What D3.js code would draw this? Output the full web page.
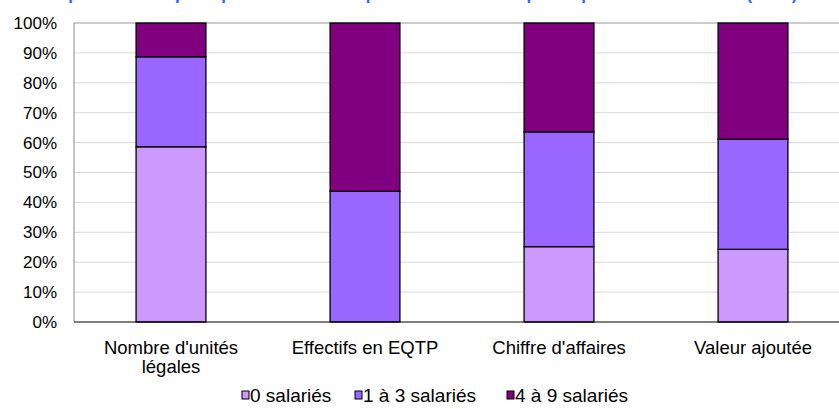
<!DOCTYPE html>
<meta charset="utf-8">
<style>
body { margin: 0; background: #fff; }
svg { display: block; font-family: Arial, "Liberation Sans", sans-serif; }
.grid line { stroke: #d9d9d9; }
.axis--y path { stroke: #888; }
.axis--y .tick line { display: none; }
.axis text { fill: #000; }
.axis--y text { font-size: 17px; }
.axis--x text { font-size: 18.5px; }
.axis--x path { stroke: #000; }
.axis--x .tick line { display: none; }
</style>
<svg width="839" height="409"></svg>
<script src="https://cdnjs.cloudflare.com/ajax/libs/d3/7.8.5/d3.min.js"></script>
<script>

var categories = ["Nombre d'unités légales", "Effectifs en EQTP", "Chiffre d'affaires", "Valeur ajoutée"];
var seriesNames = ["0 salariés", "1 à 3 salariés", "4 à 9 salariés"];
var zero = [58.6, 0, 25.2, 24.3];
var oneToThree = [30.1, 43.7, 38.4, 36.8];
var fourToNine = [11.3, 56.3, 36.4, 38.9];
var yTicks = [0, 10, 20, 30, 40, 50, 60, 70, 80, 90, 100];
var colors = ["#cc99ff", "#9966ff", "#800080"];

var svg = d3.select("svg"),
    margin = {top: 23, left: 74, bottom: 87},
    plotRight = 850,
    height = +svg.attr("height") - margin.top - margin.bottom;

// title is cut off by the top of the picture, only the descenders show
svg.append("text")
    .attr("x", 422)
    .attr("y", 0)
    .attr("text-anchor", "middle")
    .attr("fill", "#3366ff")
    .style("font-weight", "bold")
    .style("font-size", "17px")
    .text("Répartition des principales caractéristiques des microentreprises par tranche de taille (en %)");

var x = d3.scaleBand().domain(categories).range([margin.left, plotRight]).paddingInner(0.64).paddingOuter(0.32),
    y = d3.scaleLinear().domain([0, 100]).range([margin.top + height, margin.top]);

svg.append("g")
    .attr("class", "grid")
  .selectAll("line")
  .data(yTicks.slice(1))
  .enter().append("line")
    .attr("x1", margin.left).attr("x2", plotRight)
    .attr("y1", function(d) { return y(d); })
    .attr("y2", function(d) { return y(d); })
    .style("stroke", function(d) { return d == 100 ? "#999" : null; });

var rows = categories.map(function(c, i) {
  return {cat: c, s0: zero[i], s1: oneToThree[i], s2: fourToNine[i]};
});
var stacked = d3.stack().keys(["s0", "s1", "s2"])(rows);

svg.append("g").selectAll("g")
  .data(stacked)
  .enter().append("g")
    .attr("fill", function(d, i) { return colors[i]; })
  .selectAll("rect")
  .data(function(d) { return d; })
  .enter().filter(function(d) { return d[1] - d[0] > 0; }).append("rect")
    .attr("x", function(d) { return x(d.data.cat); })
    .attr("width", x.bandwidth())
    .attr("y", function(d) { return y(d[1]); })
    .attr("height", function(d) { return y(d[0]) - y(d[1]); })
    .attr("stroke", "#000")
    .attr("stroke-width", 1.3);

svg.append("g")
    .attr("class", "axis axis--y")
    .attr("transform", "translate(" + margin.left + ",0)")
    .call(d3.axisLeft(y).tickValues(yTicks).tickSize(0).tickPadding(17).tickFormat(function(d) { return d + "%"; }))
    .call(function(g) { g.select(".domain").attr("d", "M0," + y(0) + "V" + y(100)); });

var xAxis = svg.append("g")
    .attr("class", "axis axis--x")
    .attr("transform", "translate(0," + y(0) + ")")
    .call(d3.axisBottom(x).tickSize(0).tickPadding(0))
    .call(function(g) { g.select(".domain").attr("d", "M" + margin.left + ",0H" + plotRight); });

xAxis.selectAll(".tick text").each(function(d) {
  var t = d3.select(this), lines = d == "Nombre d'unités légales" ? ["Nombre d'unités", "légales"] : [d];
  t.text(null).attr("y", 0).attr("dy", null);
  lines.forEach(function(l, i) {
    t.append("tspan").attr("x", 0).attr("y", 32 + i * 19).text(l);
  });
});

var legendX = [242, 355, 507];
var legend = svg.append("g").selectAll("g")
  .data(seriesNames)
  .enter().append("g")
    .attr("transform", function(d, i) { return "translate(" + legendX[i] + ",391)"; });
legend.append("rect")
    .attr("width", 7).attr("height", 8)
    .attr("fill", function(d, i) { return colors[i]; })
    .attr("stroke", "#000");
legend.append("text")
    .attr("x", 8).attr("y", 11)
    .style("font-size", "19px")
    .text(function(d) { return d; });
</script>
